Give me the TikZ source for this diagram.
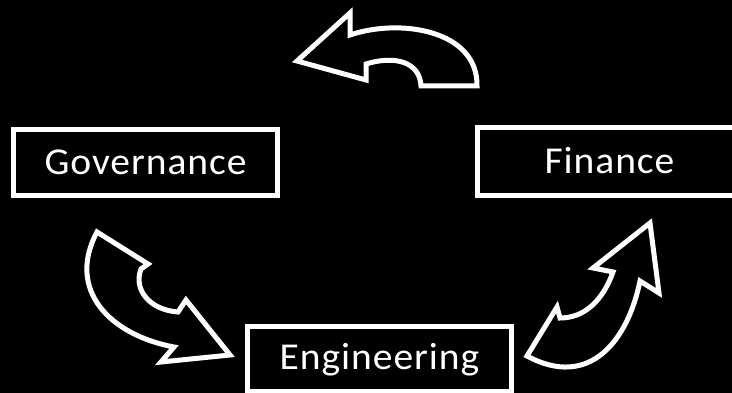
\documentclass[tikz,border=0pt]{standalone}
\usepackage{fontspec}
\setmainfont{Carlito}[FakeStretch=1.04,LetterSpace=2.5]
\begin{document}
\begin{tikzpicture}[x=1pt,y=-1pt,
  box/.style={draw=white, line width=5pt, text=white, minimum width=264pt, inner sep=0pt,
    font=\fontsize{38}{46}\selectfont, text height=24pt, text depth=0pt},
  blockarrow/.style={draw=white, line width=5pt, fill=black, line join=miter, miter limit=10}]
\fill[black] (0,0) rectangle (732,393);
\useasboundingbox (0,0) rectangle (732,393);

\node[box, minimum height=66.5pt] (gov) at (145.5,162.5) {Governance};
\node[box, minimum height=68pt] (fin) at (609.5,161.5) {Finance};
\node[box, minimum height=64.5pt, text depth=2pt] (eng) at (379.5,359) {Engineering};

% top arrow (Finance -> Governance)
\draw[blockarrow] (297,61) -- (350,13) -- (350,35)
  .. controls (400,18) and (478,30) .. (477,86) -- (421,86)
  .. controls (420,62) and (395,55) .. (366,64) -- (366,80) -- cycle;

% left arrow (Governance -> Engineering)
\draw[blockarrow] (97,232) -- (148,264) -- (141,269)
  .. controls (133,290) and (150,310) .. (178,312) -- (186,300) -- (230,355)
  -- (161,362) -- (174,347)
  .. controls (110,335) and (66,290) .. (97,232) -- cycle;

% right arrow (Engineering -> Finance)
\draw[blockarrow] (527,356) -- (557,307) -- (560,318)
  .. controls (585,318) and (603,300) .. (613,272) -- (593,268) -- (650,223)
  -- (659,293) -- (640,281)
  .. controls (628,340) and (590,390) .. (527,356) -- cycle;
\end{tikzpicture}
\end{document}
